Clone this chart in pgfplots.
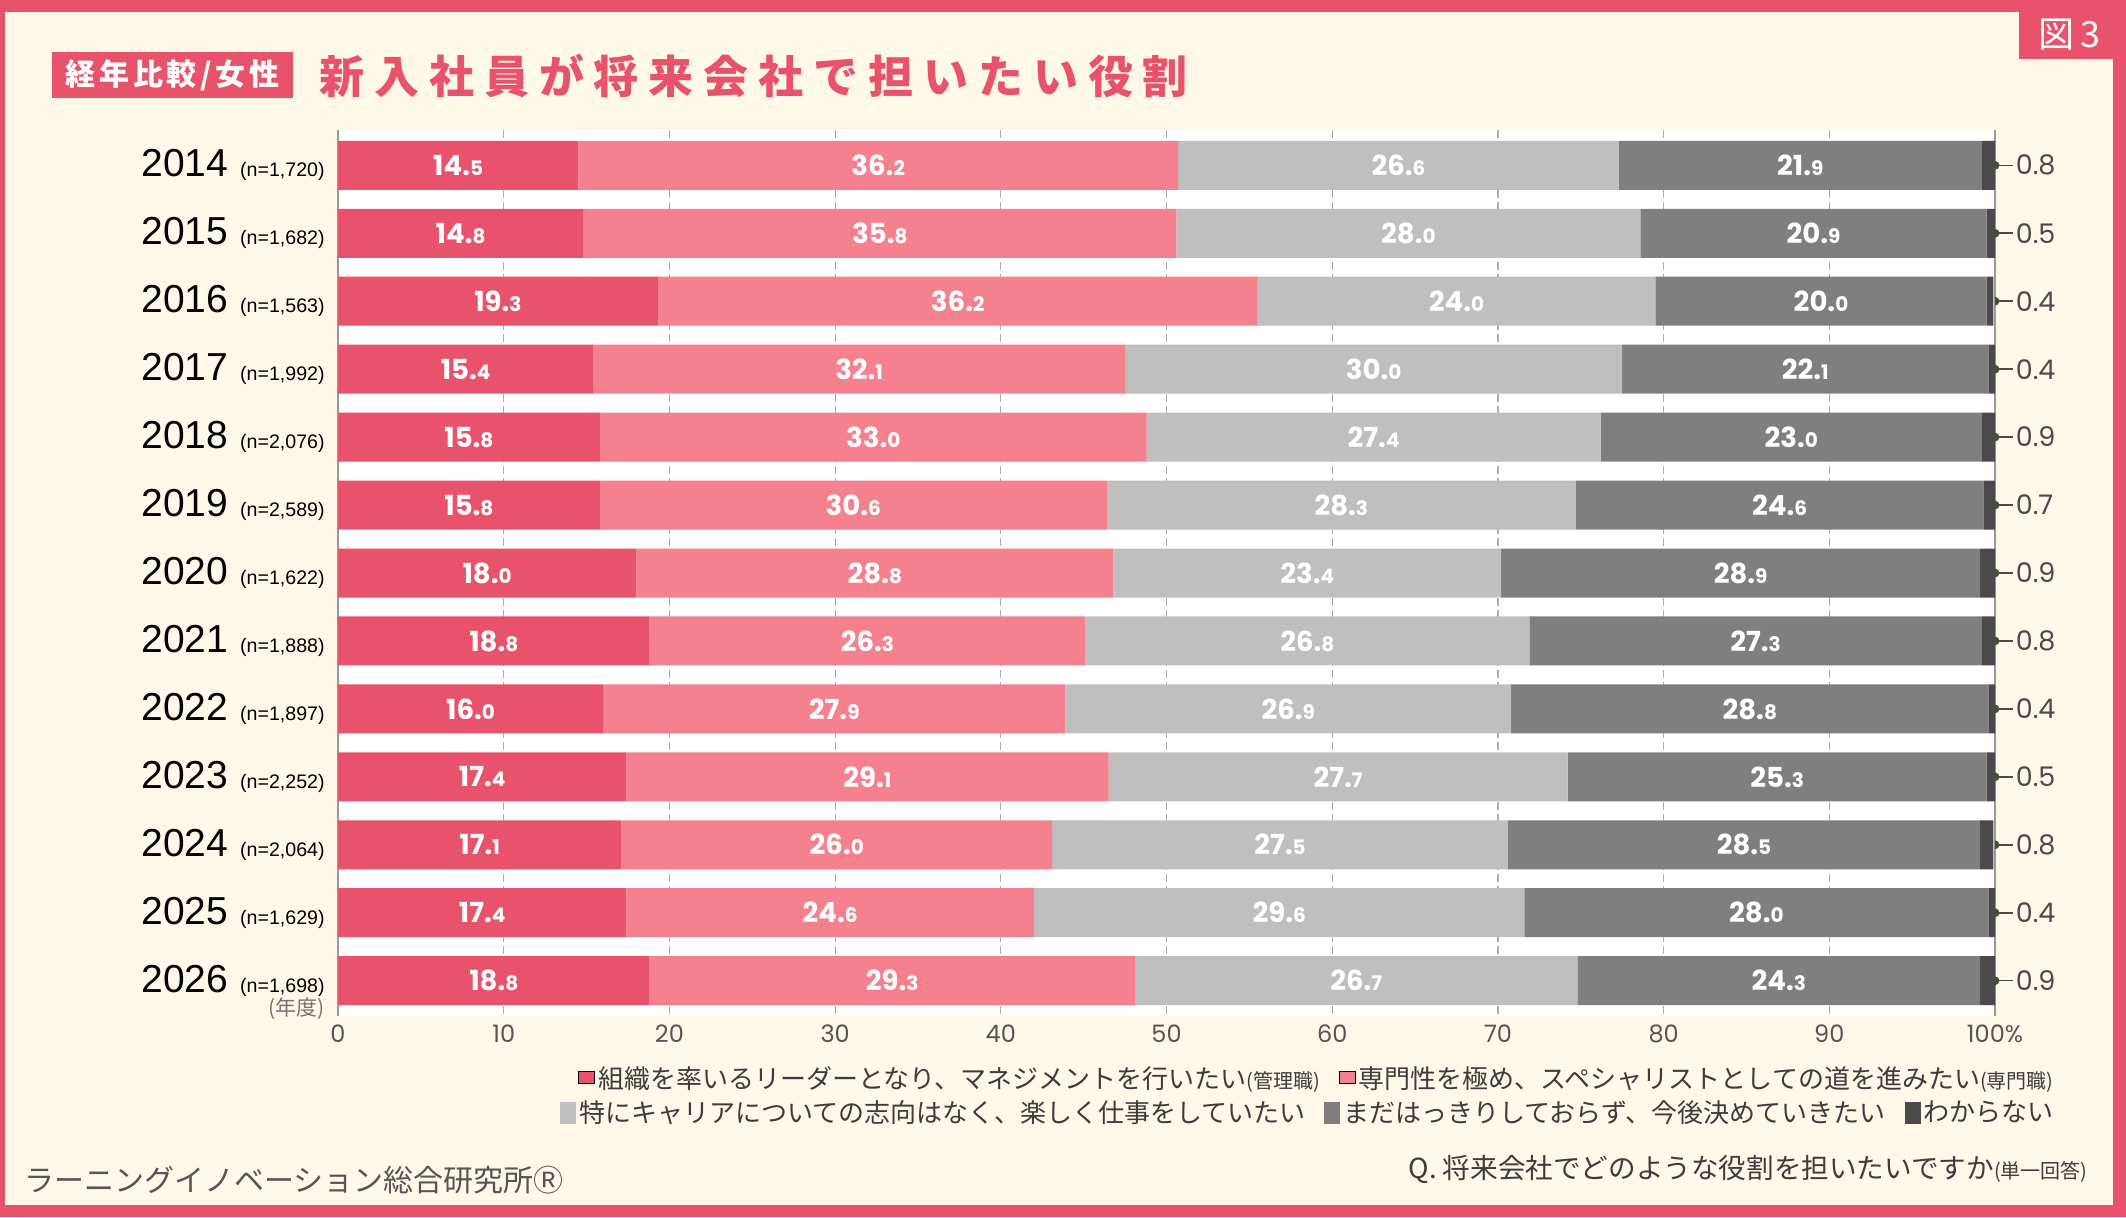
\documentclass[border=0pt]{standalone}
\usepackage{pgfplots}
\pgfplotsset{compat=1.18}
\usepackage{pgfplotstable}
\usepackage{fontspec}
\setmainfont{Liberation Sans}
\newfontfamily\cjk{Noto Sans CJK JP}
\newfontfamily\cjktitle[LetterSpace=22]{Noto Sans CJK JP}
\newfontfamily\cjksub[LetterSpace=12]{Noto Sans CJK JP}
\newfontfamily\pop{Poppins}

\definecolor{cA}{HTML}{E8536B}
\definecolor{cB}{HTML}{F4818D}
\definecolor{cC}{HTML}{BFBFBF}
\definecolor{cD}{HTML}{7F7F7F}
\definecolor{cE}{HTML}{4A4A4A}
\definecolor{cream}{HTML}{FEF8E9}
\definecolor{tgray}{HTML}{555555}
\definecolor{ltxt}{HTML}{3C3C3C}

\pgfplotstableread{
y a b c d e
0 14.5 36.2 26.6 21.9 0.8
1 14.8 35.8 28.0 20.9 0.5
2 19.3 36.2 24.0 20.0 0.4
3 15.4 32.1 30.0 22.1 0.4
4 15.8 33.0 27.4 23.0 0.9
5 15.8 30.6 28.3 24.6 0.7
6 18.0 28.8 23.4 28.9 0.9
7 18.8 26.3 26.8 27.3 0.8
8 16.0 27.9 26.9 28.8 0.4
9 17.4 29.1 27.7 25.3 0.5
10 17.1 26.0 27.5 28.5 0.8
11 17.4 24.6 29.6 28.0 0.4
12 18.8 29.3 26.7 24.3 0.9
}\data

\def\vsplitA#1.#2\relax{#1.{\fontsize{10}{10}\selectfont#2}}
\newcommand\vlab{\edef\tmpv{\pgfplotspointmeta}\expandafter\vsplitA\tmpv\relax}
\newcommand\yl[2]{{\fontsize{19.5}{20}\selectfont #1}\hspace{6pt}{\fontsize{9.8}{10}\selectfont #2}}

\pgfdeclareplotmark{semi}{%
  \pgfpathmoveto{\pgfqpoint{0pt}{\pgfplotmarksize}}%
  \pgfpatharc{90}{-90}{\pgfplotmarksize}%
  \pgfpathclose
  \pgfusepathqfill
  \pgfpathmoveto{\pgfqpoint{0pt}{0pt}}%
  \pgfpathlineto{\pgfqpoint{9pt}{0pt}}%
  \pgfusepathqstroke
}

\pgfplotsset{
  common/.style={
    at={(169pt,100.5pt)}, anchor=south west,
    width=828.5pt, height=443pt, scale only axis,
    xmin=0, xmax=100, ymin=-0.52, ymax=12.52, y dir=reverse,
  },
  lab/.style={draw=none, mark=none, nodes near coords={\vlab}, point meta=explicit symbolic,
    every node near coord/.append style={anchor=center, inner sep=0pt, text=white,
      font=\pop\bfseries\fontsize{13.8}{14}\selectfont}},
  leg/.style={
    legend image code/.code={\fill[##1] (0pt,-5.5pt) rectangle (8pt,5.5pt);},
    legend style={draw=none, fill=none, anchor=east,
      legend columns=-1, inner sep=0pt, text=ltxt,
      font=\cjk\fontsize{13}{14}\selectfont,
      nodes={inner sep=1.5pt},
      /tikz/every even column/.append style={column sep=8pt}}},
}

\begin{document}
\begin{tikzpicture}
\useasboundingbox (0,0) rectangle (1063pt,608.5pt);
\fill[cA] (0,0) rectangle (1063pt,608.5pt);
\fill[cream] (2.5pt,6pt) rectangle (1056.5pt,602.5pt);
\fill[cA] (1009.5pt,579pt) rectangle (1056.5pt,602.5pt);
\node[text=white, font=\cjk\fontsize{18}{18}\selectfont, inner sep=0pt] at (1034.5pt,591pt) {図\,3};
\fill[cA] (26pt,559.5pt) rectangle (146.5pt,582.5pt);
\node[text=white, font=\cjksub\bfseries\fontsize{15}{15}\selectfont, inner sep=0pt] at (86.25pt,571pt) {経年比較/女性};
\node[anchor=west, text=cA, font=\cjktitle\bfseries\fontsize{22.5}{22.5}\selectfont, inner sep=0pt] at (159.5pt,570.5pt) {新入社員が将来会社で担いたい役割};

\begin{axis}[common, leg,
  xbar stacked, bar width=24.5pt,
  axis background/.style={fill=white},
  xtick={0,10,...,100},
  xticklabels={0,10,20,30,40,50,60,70,80,90,100\%},
  xticklabel style={font=\pop\fontsize{12}{12}\selectfont, text=tgray, anchor=north, inner sep=0pt, yshift=-4pt},
  ytick={0,...,12},
  yticklabels={
    {\yl{2014}{(n=1,720)}},{\yl{2015}{(n=1,682)}},{\yl{2016}{(n=1,563)}},
    {\yl{2017}{(n=1,992)}},{\yl{2018}{(n=2,076)}},{\yl{2019}{(n=2,589)}},
    {\yl{2020}{(n=1,622)}},{\yl{2021}{(n=1,888)}},{\yl{2022}{(n=1,897)}},
    {\yl{2023}{(n=2,252)}},{\yl{2024}{(n=2,064)}},{\yl{2025}{(n=1,629)}},
    {\yl{2026}{(n=1,698)}}},
  yticklabel style={anchor=east, inner sep=0pt, xshift=-6.5pt, text=black},
  major tick length=0pt,
  xmajorgrids, ymajorgrids=false,
  grid style={draw=black!32, dash pattern=on 4pt off 2pt, line width=0.6pt},
  separate axis lines,
  x axis line style={draw=none},
  y axis line style={draw=black!40, line width=0.6pt},
  legend style={at={(1.0374,-0.0711)}},
]
\addplot[fill=cA, draw=none] table[x=a, y=y]{\data};
\addlegendentry{組織を率いるリーダーとなり、マネジメントを行いたい{\fontsize{10}{11}\selectfont(管理職)}}
\addplot[fill=cB, draw=none] table[x=b, y=y]{\data};
\addlegendentry{専門性を極め、スペシャリストとしての道を進みたい{\fontsize{10}{11}\selectfont(専門職)}}
\addplot[fill=cC, draw=none] table[x=c, y=y]{\data};
\addplot[fill=cD, draw=none] table[x=d, y=y]{\data};
\addplot[fill=cE, draw=none] table[x=e, y=y]{\data};
\end{axis}

\begin{axis}[common, leg, hide axis, clip=false,
  legend style={at={(1.0374,-0.1095)}},
]
\addlegendimage{fill=cC, draw=none}
\addlegendentry{特にキャリアについての志向はなく、楽しく仕事をしていたい}
\addlegendimage{fill=cD, draw=none}
\addlegendentry{まだはっきりしておらず、今後決めていきたい}
\addlegendimage{fill=cE, draw=none}
\addlegendentry{わからない}
\addplot[lab] table[x expr=\thisrow{a}/2, y=y, meta=a]{\data};
\addplot[lab] table[x expr=\thisrow{a}+\thisrow{b}/2, y=y, meta=b]{\data};
\addplot[lab] table[x expr=\thisrow{a}+\thisrow{b}+\thisrow{c}/2, y=y, meta=c]{\data};
\addplot[lab] table[x expr=\thisrow{a}+\thisrow{b}+\thisrow{c}+\thisrow{d}/2, y=y, meta=d]{\data};
\addplot[draw=none, mark=semi, mark size=2.2pt, mark options={fill=cE, draw=cE, line width=0.8pt},
  nodes near coords={\pgfplotspointmeta}, point meta=explicit symbolic,
  every node near coord/.append style={anchor=west, inner sep=0pt, xshift=10pt, text=cE,
    font=\pop\fontsize{13.5}{14}\selectfont}]
  table[x expr=100, y=y, meta=e]{\data};
\node[anchor=east, inner sep=0pt, xshift=-6.5pt, text=black!55, font=\cjk\fontsize{10.5}{11}\selectfont] at (axis cs:0,12.41) {(年度)};
\end{axis}

\node[anchor=west, inner sep=0pt, text=tgray, font=\cjk\fontsize{15}{16}\selectfont] at (12pt,18.5pt) {ラーニングイノベーション総合研究所Ⓡ};
\node[anchor=east, inner sep=0pt, text=ltxt, font=\cjk\fontsize{13.8}{14}\selectfont] at (1044pt,24pt) {Q. 将来会社でどのような役割を担いたいですか{\fontsize{10}{10}\selectfont(単一回答)}};
\end{tikzpicture}
\end{document}
